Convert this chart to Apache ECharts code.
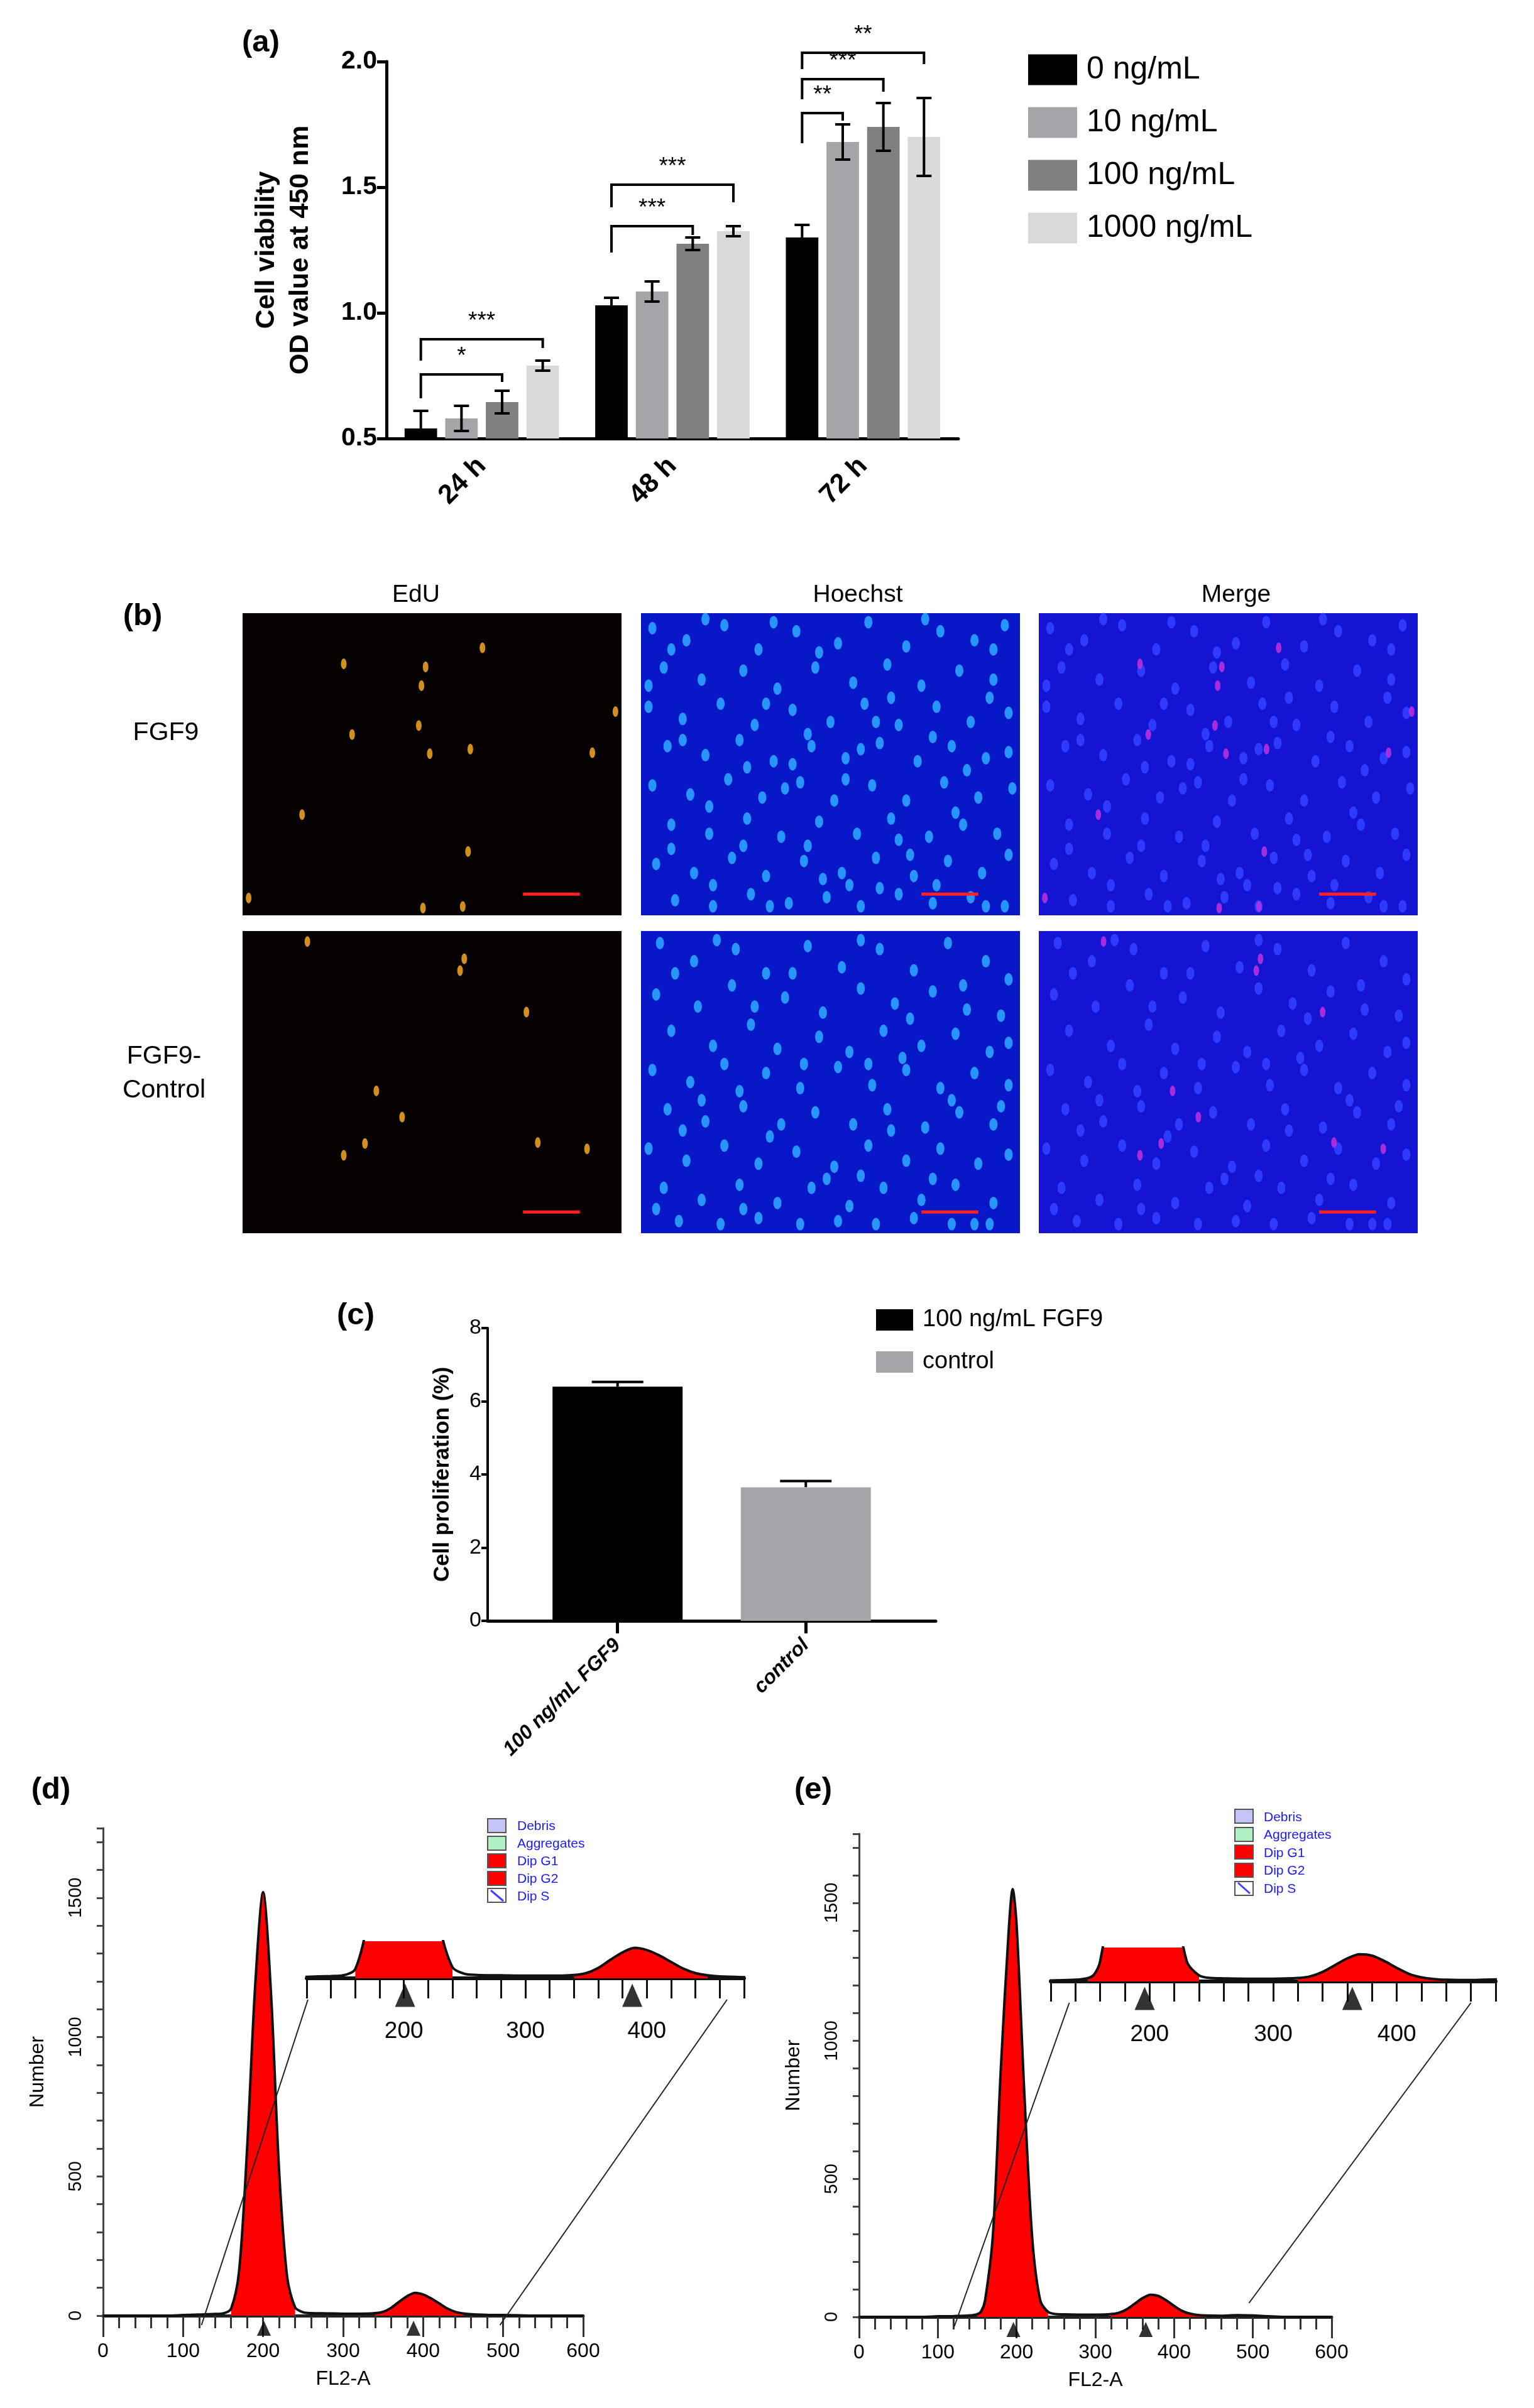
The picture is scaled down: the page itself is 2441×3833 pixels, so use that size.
<!DOCTYPE html>
<html>
<head>
<meta charset="utf-8">
<script src="https://cdn.jsdelivr.net/npm/echarts@6/dist/echarts.min.js"></script>
<style>
  html, body { margin: 0; padding: 0; background: #fff; }
  #fig { width: 2441px; height: 3833px; }
</style>
</head>
<body>
<div id="fig"></div>
<script>
// ---- data ----
// (a) CCK-8
var timePoints = ['24 h', '48 h', '72 h'];
var doses = ['0 ng/mL', '10 ng/mL', '100 ng/mL', '1000 ng/mL'];
var doseColors = ['#000000', '#a5a5a9', '#808080', '#d9d9d9'];
var odMean = [
  [0.54, 1.03, 1.30],
  [0.58, 1.085, 1.68],
  [0.645, 1.275, 1.74],
  [0.79, 1.325, 1.70]
];
var odErr = [
  [0.07, 0.03, 0.05],
  [0.05, 0.04, 0.07],
  [0.045, 0.025, 0.095],
  [0.02, 0.02, 0.155]
];
var odTicks = [0.5, 1.0, 1.5, 2.0];
// brackets: [time, fromBar, toBar, topY, leftLegY, rightLegY]
var brackets = [
  [0, 0, 2, 0.755, 0.66, 0.725],
  [0, 0, 3, 0.895, 0.81, 0.86],
  [1, 0, 2, 1.345, 1.24, 1.31],
  [1, 0, 3, 1.51, 1.42, 1.44],
  [2, 0, 1, 1.795, 1.675, 1.765],
  [2, 0, 2, 1.93, 1.85, 1.88],
  [2, 0, 3, 2.035, 1.97, 1.99]
];
var bracketLabels = ['*', '***', '***', '***', '**', '***', '**'];

// (b) EdU staining
var stainTitles = ['EdU', 'Hoechst', 'Merge'];
var stainTitleX = [271, 559, 806];
var rowLabels = ['FGF9', 'FGF9-\nControl'];
var edUCellsFGF9 = [[63.3,11.5],[48.3,17.8],[47.2,24.0],[46.5,37.2],[28.9,40.2],[49.4,46.5],[60.1,45.0],[92.3,46.2],[98.4,32.6],[15.7,66.7],[59.5,78.9],[1.6,94.3],[47.6,97.6],[58.1,97.1],[26.7,16.8]];
var edUCellsControl = [[58.5,9.2],[57.4,13.1],[74.9,26.8],[35.3,52.9],[42.1,61.6],[32.3,70.3],[26.7,74.2],[77.9,70.0],[90.9,72.1],[17.1,3.5]];
var nucleiFGF9 = [[3,5],[12,9],[22,4],[31,12],[41,6],[52,10],[60,3],[70,11],[79,6],[88,9],[96,4],[6,18],[16,22],[27,19],[36,25],[46,18],[56,23],[65,17],[74,24],[84,19],[93,22],[2,31],[11,35],[21,30],[30,37],[40,32],[50,36],[59,30],[68,37],[78,31],[87,36],[97,33],[7,44],[17,47],[26,42],[35,49],[45,44],[54,48],[63,43],[73,49],[82,44],[91,48],[3,57],[13,60],[23,55],[32,61],[42,56],[51,62],[61,57],[70,62],[80,56],[89,61],[98,58],[8,70],[18,73],[28,68],[37,74],[47,69],[57,73],[66,68],[76,74],[85,70],[94,73],[4,83],[14,86],[24,81],[33,87],[43,82],[53,86],[62,81],[72,87],[81,82],[90,86],[9,95],[19,97],[29,93],[39,96],[49,94],[58,97],[68,93],[77,96],[87,94],[96,97],[8,12],[35,3],[66,28],[44,40],[86,52],[18,64],[71,80],[55,90],[27,77],[93,12],[58,45],[38,58],[17,2],[47,13],[75,2],[2,24],[33,30],[62,36],[92,28],[11,42],[40,50],[77,41],[97,46],[28,51],[54,55],[83,66],[8,78],[44,77],[68,75],[97,80],[19,90],[48,88],[78,90],[34,97],[63,91],[91,97]];
var nucleiControl = [[5,4],[14,10],[25,6],[33,14],[44,5],[53,12],[63,6],[72,13],[81,4],[91,10],[97,16],[4,21],[15,25],[24,18],[38,22],[48,27],[58,19],[67,24],[77,20],[86,26],[95,28],[8,33],[19,38],[29,31],[36,39],[47,35],[55,40],[64,33],[74,38],[83,34],[92,40],[3,46],[13,50],[22,44],[33,47],[42,52],[52,45],[61,51],[70,46],[79,52],[88,47],[97,51],[7,59],[17,63],[27,58],[37,64],[46,60],[56,64],[65,59],[75,65],[84,60],[93,64],[2,72],[12,76],[22,71],[31,77],[41,73],[51,78],[60,71],[70,76],[79,72],[89,77],[97,74],[6,85],[16,89],[26,84],[36,90],[45,85],[55,91],[64,85],[74,89],[83,84],[93,90],[10,96],[21,97],[31,95],[42,97],[52,96],[62,97],[72,95],[82,97],[92,97],[40,14],[69,42],[26,53],[85,18],[11,66],[58,81],[20,3],[58,3],[9,14],[30,25],[71,29],[97,37],[43,44],[16,56],[60,44],[82,56],[34,68],[66,66],[95,58],[4,92],[49,82],[77,82],[27,92],[88,97]];
var scaleBar = [[74, 93], [89, 93]];

// (c) proliferation
var groupsC = ['100 ng/mL FGF9', 'control'];
var colorsC = ['#000000', '#a5a5a9'];
var prolifMean = [6.4, 3.65];
var prolifErr = [0.13, 0.17];

// (d), (e) cell cycle histograms
var histXD = [0,20,40,60,80,100,120,140,150,160,170,180,190,200,210,220,230,240,250,260,280,300,320,340,350,360,370,380,390,400,410,420,430,440,450,460,480,500,520,540,560,580,600];
var histYD = [0,0,0,0,0,2,4,6,8,25,160,600,1180,1520,1150,520,140,30,12,9,8,7,7,9,14,28,50,70,82,76,62,44,26,14,8,5,3,2,1,0,0,0,0];
var histXE = [0,20,40,60,80,100,120,140,150,155,160,170,180,190,195,200,210,220,230,240,250,260,280,300,320,330,340,350,360,370,380,390,400,410,420,430,440,460,480,500,520,540,560,580,600];
var histYE = [0,0,0,0,0,2,3,5,10,20,60,300,900,1400,1550,1420,800,280,60,18,10,9,8,8,10,15,28,48,68,80,76,60,40,22,12,7,5,4,6,5,2,0,0,0,0];
var g1RangeD = [155, 245], g2RangeD = [340, 455];
var g1RangeE = [145, 240], g2RangeE = [320, 440];
var peakMarksD = [201, 388];
var peakMarksE = [196, 364];
var cycleLegend = ['Debris', 'Aggregates', 'Dip G1', 'Dip G2', 'Dip S'];
var cycleLegendColors = ['#c4c4f8', '#b0f0c4', '#ff0000', '#ff0000', '#ffffff'];

// ---- layout helpers (positions given in 1000-wide units) ----
var k = 2.441;
function P(v) { return Math.round(v * k); }
var FONT = "'Liberation Sans Narrow', 'Liberation Sans', Arial, sans-serif";
var FONTW = "'Liberation Sans', Arial, sans-serif";

var chart = echarts.init(document.getElementById('fig'));

var grids = [], xAxes = [], yAxes = [], series = [];
function addGrid(l, t, w, h, extra) {
  var g = Object.assign({ left: P(l), top: P(t), width: P(w), height: P(h), containLabel: false }, extra || {});
  grids.push(g);
  return grids.length - 1;
}

// ===== (a) =====
var gA = addGrid(252, 40, 373, 246);
xAxes.push({
  gridIndex: gA, type: 'category', data: timePoints,
  axisLine: { lineStyle: { color: '#000', width: P(2) } },
  axisTick: { alignWithLabel: true, length: P(10), lineStyle: { width: P(2), color: '#000' } },
  axisLabel: { rotate: 45, fontSize: P(17.5), fontWeight: 'bold', color: '#000', fontFamily: FONTW, margin: P(15) }
});
yAxes.push({
  gridIndex: gA, type: 'value', min: 0.5, max: 2.0, interval: 0.5,
  name: 'Cell viability\nOD value at 450 nm', nameLocation: 'middle', nameRotate: 90, nameGap: P(45),
  nameTextStyle: { fontSize: P(17.5), fontWeight: 'bold', color: '#000', fontFamily: FONTW, lineHeight: P(22) },
  axisLine: { show: true, lineStyle: { color: '#000', width: P(2) } },
  axisTick: { show: true, length: P(6), lineStyle: { width: P(2), color: '#000' } },
  splitLine: { show: false },
  axisLabel: { fontSize: P(17), fontWeight: 'bold', color: '#000', fontFamily: FONT, margin: P(6),
    formatter: function (v) { return odTicks.indexOf(v) >= 0 ? v.toFixed(1) : ''; } }
});
function barOffset(bw, i, n) {
  var b = bw * 0.81 / (n + (n - 1) * 0.25);
  return -bw * 0.405 + b / 2 + i * 1.25 * b;
}
doses.forEach(function (d, i) {
  series.push({
    name: d, type: 'bar', xAxisIndex: 0, yAxisIndex: 0,
    data: odMean[i], barGap: '25%', barCategoryGap: '19%',
    itemStyle: { color: doseColors[i] }
  });
  series.push({
    type: 'custom', xAxisIndex: 0, yAxisIndex: 0, z: 5, clip: true,
    data: odMean[i].map(function (m, j) { return [j, m]; }),
    encode: { x: 0, y: 1 },
    renderItem: function (params, api) {
      var j = params.dataIndex, m = odMean[i][j], e = odErr[i][j];
      var bw = api.size([1, 0])[0];
      var x = api.coord([j, m])[0] + barOffset(bw, i, 4);
      var yt = api.coord([j, m + e])[1], yb = api.coord([j, m - e])[1];
      var cw = P(5);
      var st = { stroke: '#000', lineWidth: P(1.6) };
      return { type: 'group', children: [
        { type: 'line', shape: { x1: x, y1: yt, x2: x, y2: yb }, style: st },
        { type: 'line', shape: { x1: x - cw, y1: yt, x2: x + cw, y2: yt }, style: st },
        { type: 'line', shape: { x1: x - cw, y1: yb, x2: x + cw, y2: yb }, style: st }
      ] };
    }
  });
});
series.push({
  type: 'custom', xAxisIndex: 0, yAxisIndex: 0, z: 6, clip: false,
  data: brackets.map(function (b) { return [b[0], b[3]]; }), encode: { x: 0, y: 1 },
  renderItem: function (params, api) {
    var b = brackets[params.dataIndex];
    var bw = api.size([1, 0])[0];
    var cx = api.coord([b[0], 1])[0];
    var xl = cx + barOffset(bw, b[1], 4), xr = cx + barOffset(bw, b[2], 4);
    var yTop = api.coord([b[0], b[3]])[1];
    var yl = api.coord([b[0], b[4]])[1], yr = api.coord([b[0], b[5]])[1];
    return { type: 'group', children: [
      { type: 'polyline', shape: { points: [[xl, yl], [xl, yTop], [xr, yTop], [xr, yr]] },
        style: { stroke: '#000', lineWidth: P(1.6), fill: null } },
      { type: 'text', x: (xl + xr) / 2, y: yTop - P(4),
        style: { text: bracketLabels[params.dataIndex], fontSize: P(15), fontFamily: FONTW,
          fill: '#000', align: 'center', verticalAlign: 'bottom' } }
    ] };
  }
});

// ===== (b) =====
var imgCols = [158, 418, 677], imgRows = [400, 607];
var imgBg = ['#070202', '#0818c8', '#1414d2'];
for (var r = 0; r < 2; r++) {
  for (var c = 0; c < 3; c++) {
    var gi = addGrid(imgCols[c], imgRows[r], 247, 197, { show: true, backgroundColor: imgBg[c], borderWidth: 0 });
    var xi = xAxes.length;
    xAxes.push({ gridIndex: gi, type: 'value', min: 0, max: 100, show: false });
    yAxes.push({ gridIndex: gi, type: 'value', min: 0, max: 100, inverse: true, show: false });
    var edu = r === 0 ? edUCellsFGF9 : edUCellsControl;
    var nuc = r === 0 ? nucleiFGF9 : nucleiControl;
    if (c > 0) {
      series.push({
        type: 'scatter', xAxisIndex: xi, yAxisIndex: xi, data: nuc, symbol: 'circle',
        symbolSize: [P(5.5), P(8)], silent: true,
        itemStyle: { color: c === 1 ? '#2a9cff' : '#2f3cff', opacity: 0.95 }
      });
    }
    if (c !== 1) {
      series.push({
        type: 'scatter', xAxisIndex: xi, yAxisIndex: xi, data: edu, symbol: 'circle',
        symbolSize: [P(3.5), P(7)], silent: true,
        itemStyle: { color: c === 0 ? '#e8a020' : '#c030e0', opacity: c === 0 ? 0.9 : 0.85 }
      });
    }
    series.push({
      type: 'line', xAxisIndex: xi, yAxisIndex: xi, data: scaleBar, symbol: 'none', silent: true,
      lineStyle: { color: '#ff2020', width: P(2) }
    });
  }
}

// ===== (c) =====
var gC = addGrid(318, 866, 292, 191);
var xC = xAxes.length;
xAxes.push({
  gridIndex: gC, type: 'value', min: -0.69, max: 1.69,
  axisLine: { onZero: false, lineStyle: { color: '#000', width: P(2) } },
  axisTick: { show: true, customValues: [0, 1], length: P(8), lineStyle: { width: P(2), color: '#000' } },
  splitLine: { show: false },
  axisLabel: { customValues: [0, 1], formatter: function (v) { return groupsC[Math.round(v)]; },
    rotate: 45, fontSize: P(13), fontWeight: 'bold', fontStyle: 'italic', color: '#000', fontFamily: FONTW, margin: P(14) }
});
yAxes.push({
  gridIndex: gC, type: 'value', min: 0, max: 8, interval: 2,
  name: 'Cell proliferation (%)', nameLocation: 'middle', nameRotate: 90, nameGap: P(22),
  nameTextStyle: { fontSize: P(14.5), fontWeight: 'bold', color: '#000', fontFamily: FONTW },
  axisLine: { show: true, onZero: false, lineStyle: { color: '#000', width: P(1.6) } },
  axisTick: { show: true, length: P(4), lineStyle: { width: P(1.6), color: '#000' } },
  splitLine: { show: false },
  axisLabel: { fontSize: P(14), color: '#000', fontFamily: FONT, margin: P(4) }
});
groupsC.forEach(function (g, i) {
  series.push({
    name: g, type: 'bar', xAxisIndex: xC, yAxisIndex: xC,
    data: [[i, prolifMean[i]]], barWidth: P(85), barGap: '-100%', itemStyle: { color: colorsC[i] }
  });
});
series.push({
  type: 'custom', xAxisIndex: xC, yAxisIndex: xC, z: 1,
  data: prolifMean.map(function (m, j) { return [j, m]; }),
  encode: { x: 0, y: 1 },
  renderItem: function (params, api) {
    var j = params.dataIndex;
    var p = api.coord([j, prolifMean[j]]);
    var yt = api.coord([j, prolifMean[j] + prolifErr[j]])[1];
    var cw = P(17);
    var st = { stroke: '#000', lineWidth: P(1.6) };
    return { type: 'group', children: [
      { type: 'line', shape: { x1: p[0], y1: p[1], x2: p[0], y2: yt }, style: st },
      { type: 'line', shape: { x1: p[0] - cw, y1: yt, x2: p[0] + cw, y2: yt }, style: st }
    ] };
  }
});

// ===== (d), (e) =====
function cycleAxes(gMain, gIn) {
  var xi = xAxes.length;
  xAxes.push({
    gridIndex: gMain, type: 'value', min: 0, max: 600, interval: 100,
    name: 'FL2-A', nameLocation: 'middle', nameGap: P(35),
    nameTextStyle: { fontSize: P(13), color: '#000', fontFamily: FONT },
    axisLine: { onZero: false, lineStyle: { color: '#222', width: P(2) } },
    axisTick: { show: true, length: P(14), lineStyle: { width: P(1.2), color: '#333' } },
    minorTick: { show: true, splitNumber: 5, length: P(8), lineStyle: { width: P(1.2), color: '#333' } },
    splitLine: { show: false },
    axisLabel: { fontSize: P(13), color: '#000', fontFamily: FONT, margin: P(17) }
  });
  yAxes.push({
    gridIndex: gMain, type: 'value', min: 0, max: 1750, interval: 100,
    name: 'Number', nameLocation: 'middle', nameRotate: 90, nameGap: P(36),
    nameTextStyle: { fontSize: P(13), color: '#000', fontFamily: FONT },
    axisLine: { show: true, onZero: false, lineStyle: { color: '#444', width: P(1.2) } },
    axisTick: { show: true, length: P(4), lineStyle: { width: P(1.2), color: '#444' } },
    splitLine: { show: false },
    axisLabel: { fontSize: P(12), color: '#000', fontFamily: FONT, rotate: 90, margin: P(12),
      formatter: function (v) { return v % 500 === 0 ? String(v) : ''; } }
  });
  xAxes.push({
    gridIndex: gIn, type: 'value', min: 120, max: 480, interval: 20,
    axisLine: { onZero: false, lineStyle: { color: '#111', width: P(2.4) } },
    axisTick: { show: true, length: P(13), lineStyle: { width: P(1.3), color: '#111' } },
    splitLine: { show: false },
    axisLabel: { fontSize: P(15), color: '#000', fontFamily: FONT, margin: P(27),
      formatter: function (v) { return v % 100 === 0 ? String(v) : ''; } }
  });
  yAxes.push({ gridIndex: gIn, type: 'value', min: 0, max: 100, show: false });
  return xi;
}
function pairs(xs, ys, range) {
  var out = [];
  xs.forEach(function (x, i) {
    if (!range || (x >= range[0] && x <= range[1])) out.push([x, ys[i]]);
  });
  return out;
}
function cycleSeries(ax, xs, ys, r1, r2, marks) {
  [ax, ax + 1].forEach(function (a) {
    [r1, r2].forEach(function (rg) {
      series.push({
        type: 'line', xAxisIndex: a, yAxisIndex: a, data: pairs(xs, ys, rg), smooth: 0.3,
        symbol: 'none', silent: true, lineStyle: { width: 0 },
        areaStyle: { color: '#ff0000', opacity: 1 }
      });
    });
    series.push({
      type: 'line', xAxisIndex: a, yAxisIndex: a, data: pairs(xs, ys), smooth: 0.3,
      symbol: 'none', silent: true, lineStyle: { color: '#111', width: P(1.6) }
    });
    series.push({
      type: 'scatter', xAxisIndex: a, yAxisIndex: a, data: marks.map(function (m) { return [m, 0]; }),
      symbol: 'triangle', symbolSize: a === ax ? [P(9), P(10)] : [P(13), P(15)],
      symbolOffset: [0, a === ax ? P(8) : P(11)], silent: true, itemStyle: { color: '#000' }, z: 4
    });
  });
}
var gD = addGrid(67, 1192, 313, 318);
var gDi = addGrid(200, 1266, 285, 24);
var axD = cycleAxes(gD, gDi);
cycleSeries(axD, histXD, histYD, g1RangeD, g2RangeD, peakMarksD);
var gE = addGrid(560, 1196, 308, 315);
var gEi = addGrid(685, 1270, 290, 22);
var axE = cycleAxes(gE, gEi);
cycleSeries(axE, histXE, histYE, g1RangeE, g2RangeE, peakMarksE);

chart.setOption({
  animation: false,
  backgroundColor: '#fff',
  grid: grids, xAxis: xAxes, yAxis: yAxes, series: series,
  legend: [
    { data: doses, orient: 'vertical', left: P(668), top: P(33), itemWidth: P(32), itemHeight: P(20), itemGap: P(14),
      icon: 'rect', textStyle: { fontSize: P(20.5), color: '#000', fontFamily: FONT, padding: [0, 0, 0, P(4)] } },
    { data: groupsC, orient: 'vertical', left: P(569), top: P(851), itemWidth: P(24), itemHeight: P(14), itemGap: P(12),
      icon: 'rect', textStyle: { fontSize: P(15.5), color: '#000', fontFamily: FONT, padding: [0, 0, 0, P(4)] } }
  ]
});

// ---- annotations: panel letters, image titles, histogram keys, zoom connectors ----
var graphics = [];
function txt(x, y, s, size, opts) {
  graphics.push(Object.assign({ type: 'text', x: P(x), y: P(y),
    style: Object.assign({ text: s, fontSize: P(size), fill: '#000', fontFamily: FONT, align: 'center', verticalAlign: 'middle' }, opts || {}) }));
}
var letterStyle = { fontWeight: 'bold', fontFamily: FONTW };
txt(170, 28, '(a)', 20, letterStyle);
txt(93, 402, '(b)', 20, letterStyle);
txt(232, 858, '(c)', 20, letterStyle);
txt(33, 1167, '(d)', 20, letterStyle);
txt(530, 1167, '(e)', 20, letterStyle);
stainTitles.forEach(function (t, i) { txt(stainTitleX[i], 388, t, 16); });
txt(108, 478, rowLabels[0], 17);
txt(107, 700, rowLabels[1], 17, { lineHeight: P(22) });

function cycleKey(x, y, step) {
  cycleLegend.forEach(function (n, i) {
    graphics.push({ type: 'rect', shape: { x: P(x), y: P(y + i * step), width: P(12), height: P(9) },
      style: { fill: cycleLegendColors[i], stroke: '#555', lineWidth: P(0.8) } });
    txt(x + 19, y + i * step + 5, n, 8.6, { fill: '#1a1aff', align: 'left' });
  });
  graphics.push({ type: 'line', shape: { x1: P(x + 2), y1: P(y + 4 * step + 1), x2: P(x + 10), y2: P(y + 4 * step + 8) },
    style: { stroke: '#4040ff', lineWidth: P(1.2) } });
}
cycleKey(318, 1186, 11.4);
cycleKey(805, 1180, 11.7);

// connectors: [main grid, main point, inset grid, inset point]
var connectors = [
  [axD, [123, 0], axD + 1, [121, 0]],
  [axD, [496, 0], axD + 1, [466, 0]],
  [axE, [121, 0], axE + 1, [135, 0]],
  [axE, [495, 50], axE + 1, [460, 0]]
];
connectors.forEach(function (cn) {
  var a = chart.convertToPixel({ xAxisIndex: cn[0], yAxisIndex: cn[0] }, cn[1]);
  var b = chart.convertToPixel({ xAxisIndex: cn[2], yAxisIndex: cn[2] }, cn[3]);
  graphics.push({ type: 'line', z: 10, shape: { x1: a[0], y1: a[1] + (cn[1][1] === 0 ? P(6) : 0), x2: b[0], y2: b[1] + P(14) },
    style: { stroke: '#222', lineWidth: P(0.9) } });
});
chart.setOption({ graphic: graphics });
</script>
</body>
</html>
